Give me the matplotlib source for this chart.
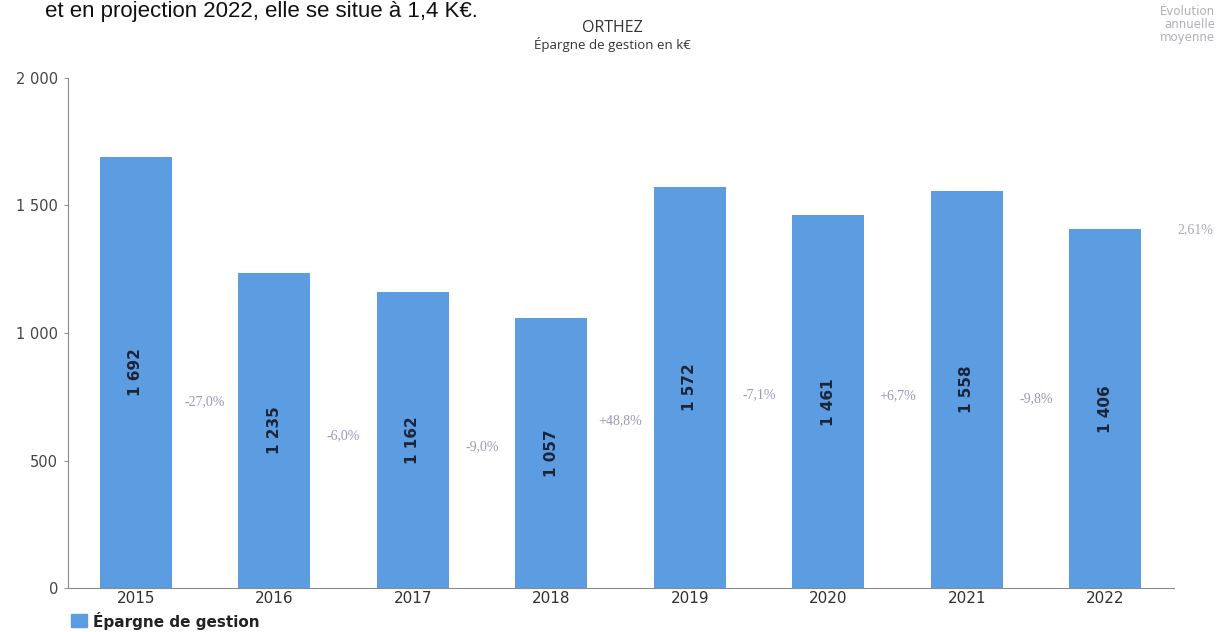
import numpy as np
import matplotlib.pyplot as plt

years = ["2015", "2016", "2017", "2018", "2019", "2020", "2021", "2022"]
epargne = [1692, 1235, 1162, 1057, 1572, 1461, 1558, 1406]
variations = ["-27,0%", "-6,0%", "-9,0%", "+48,8%", "-7,1%", "+6,7%", "-9,8%"]
evolution_moyenne = "2,61%"

def fmt(v):
    return f"{v:,}".replace(",", " ")

fig = plt.figure(figsize=(12.2, 6.32), dpi=100)
ax = fig.add_axes([0.0557, 0.0696, 0.907, 0.807])

x = np.arange(len(years))
ax.bar(x, epargne, width=0.52, color="#5c9de2", edgecolor="none", zorder=2)

# values written vertically in the middle of each bar
for xi, v in zip(x, epargne):
    ax.text(xi, v / 2, fmt(v), rotation=90, ha="center", va="center",
            fontsize=11, fontweight="bold", color="#1c2438")

# year-to-year change between bars
for i, lab in enumerate(variations):
    ymid = (epargne[i] + epargne[i + 1]) / 4
    ax.text(x[i] + 0.5, ymid, lab, ha="center", va="center",
            fontsize=10, color="#9a98b8", family="Liberation Serif")

ax.text(7.65, epargne[-1], evolution_moyenne, ha="center", va="center",
        fontsize=10, color="#a8a8c0", family="Liberation Serif", clip_on=False)

ax.set_xlim(-0.49, 7.5)
ax.set_ylim(0, 2000)
ax.set_yticks([0, 500, 1000, 1500, 2000])
ax.set_yticklabels([fmt(t) for t in [0, 500, 1000, 1500, 2000]],
                   fontsize=10.5, color="#454545")
ax.set_xticks(x)
ax.set_xticklabels(years, fontsize=11, color="#303030")
ax.tick_params(axis="y", length=3, color="#999999", pad=4)
ax.tick_params(axis="x", length=0, pad=2)

for s in ["top", "right"]:
    ax.spines[s].set_visible(False)
ax.spines["left"].set_color("#8a8a8a")
ax.spines["bottom"].set_color("#8a8a8a")

# header texts
fig.text(0.037, 0.998, "et en projection 2022, elle se situe à 1,4 K€.",
         fontsize=16, family="Liberation Sans", color="#111111", va="top")
fig.text(0.502, 0.955, "ORTHEZ", ha="center", va="center",
         fontsize=11.5, color="#333333", family="Open Sans")
fig.text(0.502, 0.929, "Épargne de gestion en k€", ha="center", va="center",
         fontsize=9.5, color="#333333", family="Open Sans")
fig.text(0.996, 0.962, "Évolution\nannuelle\nmoyenne", ha="right", va="center",
         fontsize=8.5, color="#b0b0b8", linespacing=1.0)

# legend
fig.patches.append(plt.Rectangle((0.058, 0.008), 0.013, 0.02, transform=fig.transFigure,
                                 color="#5c9de2", figure=fig))
fig.text(0.076, 0.018, "Épargne de gestion", fontsize=11, fontweight="bold",
         color="#222222", va="center")

fig.savefig("out.png", dpi=100)
